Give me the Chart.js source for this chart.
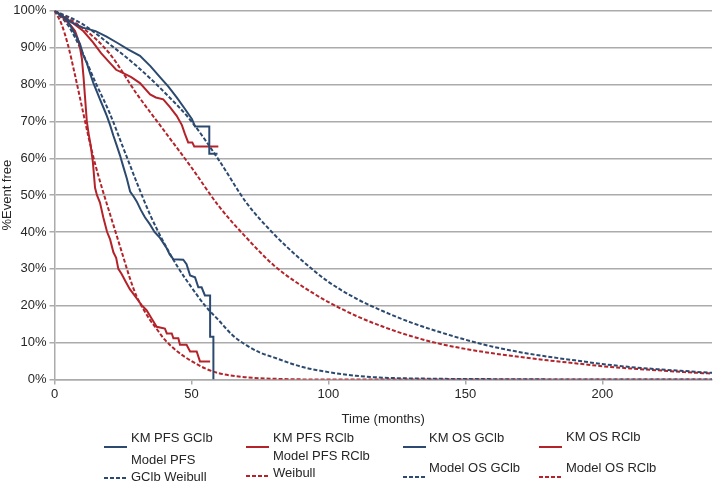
<!DOCTYPE html>
<html>
<head>
<meta charset="utf-8">
<script src="https://cdn.jsdelivr.net/npm/chart.js@4/dist/chart.umd.min.js"></script>
<style>
html, body { margin: 0; padding: 0; background: #fff; }
#wrap { position: relative; width: 716px; height: 493px; font-family: "Liberation Sans", Arial, sans-serif; color: #262626; }
#chart { position: absolute; left: 0; top: 0; }
.item { position: absolute; font-size: 13px; line-height: 17px; white-space: nowrap; }
.swatch { position: absolute; }
</style>
</head>
<body>
<div id="wrap">
  <canvas id="chart" width="716" height="431"></canvas>
  <div id="legend"></div>
</div>
<script>
// KM curves (months, % event free)
const kmPfsGclbT = [0,3,5,6.5,8,9.3,10.5,11.8,13,14.2,15.5,16.6,18,19.1,20.3,21.5,22.7,23.9,25,26.4,27.6,29,30,31.5,33,34.9,36.5,38.5,40.9,42,43.4,47,48.2,49.5,51.3,52.5,53.7,54.9,56.8,56.8,58,58];
const kmPfsGclbS = [100,98.5,97,95,93,91,88,85.8,83,80.4,78,76,73.5,71.5,69,66.1,63.5,60.8,58,54.5,51,49.5,48.3,46,44,42,40,38.4,35.7,34,32.6,32.5,31.3,28.2,27.7,25,25,22.8,22.8,11.6,11.6,0];

const kmPfsRclbT = [0,2,4,6,7.5,8.5,9.3,10,10.6,11.1,11.8,12.5,13.2,14,14.8,15.5,16.6,17.8,19.2,20.3,21.5,22.5,23.3,24.5,26,27.5,29,30.5,32,33.6,35.5,37.3,40.3,41,42.8,43.4,45.2,45.8,48.2,49.5,51.9,53.1,56.8];
const kmPfsRclbS = [100,99,97.5,96,94.5,92.5,90,87,82,77,70,66.5,63.5,59,52,50,48,44,40,38,34.5,33,30,28.6,26.5,24.5,23,21.5,20,18.8,16.5,14.3,13.8,12.5,12.5,11.2,11.2,9.4,9.4,7.6,7.6,4.9,4.9];

const kmOsGclbT = [0,3,6,10,15,19,22.7,27,31.2,35,38.5,41.5,44.6,47.5,50.2,51.3,56.5,56.5,59.5];
const kmOsGclbS = [100,98.5,97,95.5,94.5,93,91.4,89.5,87.8,85,82,79.5,76.5,73.5,70.6,68.6,68.6,61.2,61.2];

const kmOsRclbT = [0,4,7,10.5,14,17,20.3,22.5,25.1,28,31.2,34.9,37,39.7,42,44.6,46.5,47.6,48.8,50.3,51,59.8];
const kmOsRclbS = [100,98,96.5,94.5,91.5,88.5,85.8,84,83.1,82,80.4,77.3,76.5,76,74,71.5,69,66.6,64.3,64.3,63.2,63.2];

// Weibull model curves
const modelPfsGclbT = [0,5,10,15,20,25,30,35,40,45,50,55,60,65,70,75,80,90,100,110,120,140,160,200,240];
const modelPfsGclbS = [100,96,89,80.5,72.5,63,53.5,44.5,37,30.5,25,20,16,12,9.3,7.3,6,3.5,2,1,0.5,0.2,0.1,0,0];

const modelPfsRclbT = [0,2.5,5,7.5,10,12.5,15,17.5,20,22.5,25,27.5,30,32.5,35,37.5,40,45,50,55,60,70,80,100,240];
const modelPfsRclbS = [100,96.5,90.5,82.5,74,65.5,58,51.5,45.5,39.5,33.5,27.5,22.5,19,16,13.5,11,7.5,5,3,1.7,0.6,0.2,0,0];

const modelOsT = [0,10,20,30,40,50,60,70,80,90,100,110,120,130,140,150,160,170,180,190,200,210,220,230,240];
const modelOsGclbS = [100,96.5,91,85,78,70,59.5,48,39.5,32.5,26.5,22,18.5,15.5,13,10.8,8.9,7.4,6.2,5.2,4.2,3.4,2.8,2.3,1.8];
const modelOsRclbS = [100,95.5,88.5,77.5,67.5,57.5,47,38.5,31,25.5,21,17.3,14.3,11.8,9.8,8.3,7.1,6.1,5.2,4.4,3.6,3,2.5,2,1.6];

const xTicks = [0, 50, 100, 150, 200];
const seriesNames = ['KM PFS GClb', 'KM PFS RClb', 'KM OS GClb', 'KM OS RClb',
  'Model PFS\nGClb Weibull', 'Model PFS RClb\nWeibull', 'Model OS GClb', 'Model OS RClb'];

const BLUE = '#2c4a70', RED = '#b5232a', GRID = '#ababab', TXT = '#262626';
const FONT = '"Liberation Sans", Arial, sans-serif';

function pts(t, s) {
    return t.map((v, i) => ({ x: v, y: s[i] }));
}

function km(i, t, s, color) {
    return { label: seriesNames[i], data: pts(t, s), borderColor: color, borderWidth: 2,
        pointRadius: 0, tension: 0, fill: false };
}

function model(i, t, s, color) {
    return { label: seriesNames[i], data: pts(t, s), borderColor: color, borderWidth: 2,
        borderDash: [4, 2], pointRadius: 0, cubicInterpolationMode: 'monotone', fill: false };
}

const datasets = [
    km(0, kmPfsGclbT, kmPfsGclbS, BLUE),
    km(1, kmPfsRclbT, kmPfsRclbS, RED),
    km(2, kmOsGclbT, kmOsGclbS, BLUE),
    km(3, kmOsRclbT, kmOsRclbS, RED),
    model(4, modelPfsGclbT, modelPfsGclbS, BLUE),
    model(5, modelPfsRclbT, modelPfsRclbS, RED),
    model(6, modelOsT, modelOsGclbS, BLUE),
    model(7, modelOsT, modelOsRclbS, RED)
];

Chart.defaults.font.family = FONT;
Chart.defaults.color = TXT;

new Chart(document.getElementById('chart').getContext('2d'), {
    type: 'line',
    data: { datasets: datasets },
    options: {
        responsive: false,
        animation: false,
        layout: { padding: { top: 6.5, right: 4, left: 0, bottom: 0 } },
        plugins: { legend: { display: false }, tooltip: { enabled: false } },
        scales: {
            x: {
                type: 'linear', min: 0, max: 240,
                afterBuildTicks: s => { s.ticks = xTicks.map(v => ({ value: v })); },
                ticks: { padding: 2, font: { size: 13 }, color: TXT },
                grid: { drawOnChartArea: false, drawTicks: true, tickLength: 5, color: GRID, lineWidth: 1.5 },
                border: { color: GRID, width: 1.5 },
                title: { display: true, text: 'Time (months)', font: { size: 13 }, color: TXT, padding: { top: 4, bottom: 4 } },
                afterFit: s => { s.height = 51.5; }
            },
            y: {
                min: 0, max: 100,
                ticks: { stepSize: 10, padding: 3, font: { size: 13 }, color: TXT, callback: v => v + '%' },
                grid: { color: GRID, lineWidth: 1.5, tickLength: 5 },
                border: { color: GRID, width: 1.5 },
                title: { display: true, text: '%Event free', font: { size: 13 }, color: TXT, padding: { top: 0, bottom: 0 } },
                afterFit: s => { s.width = 54.5; }
            }
        }
    }
});

// legend, 4 columns x 2 rows
const legendPos = [
    { lx: 104, ly: 437, tx: 131, ty: 437 },
    { lx: 246, ly: 437, tx: 273, ty: 437 },
    { lx: 403, ly: 437, tx: 429, ty: 437 },
    { lx: 539, ly: 437, tx: 566, ty: 436 },
    { lx: 104, ly: 468, tx: 131, ty: 468 },
    { lx: 246, ly: 466, tx: 273, ty: 464 },
    { lx: 403, ly: 467, tx: 429, ty: 467 },
    { lx: 539, ly: 467, tx: 566, ty: 467 }
];

const legend = document.getElementById('legend');
datasets.forEach((d, i) => {
    const p = legendPos[i];
    const lines = seriesNames[i].split('\n');
    const dash = d.borderDash ? ' stroke-dasharray="4,2"' : '';
    const sw = document.createElement('div');
    sw.className = 'swatch';
    sw.style.left = p.lx + 'px';
    sw.style.top = (p.ly - 2) + 'px';
    sw.innerHTML = '<svg width="23" height="4"><line x1="0" y1="2" x2="23" y2="2" stroke="' +
        d.borderColor + '" stroke-width="2"' + dash + '/></svg>';
    legend.appendChild(sw);

    const tx = document.createElement('div');
    tx.className = 'item';
    tx.style.left = p.tx + 'px';
    tx.style.top = (p.ty - lines.length * 17 / 2) + 'px';
    tx.innerHTML = lines.join('<br>');
    legend.appendChild(tx);
});
</script>
</body>
</html>
